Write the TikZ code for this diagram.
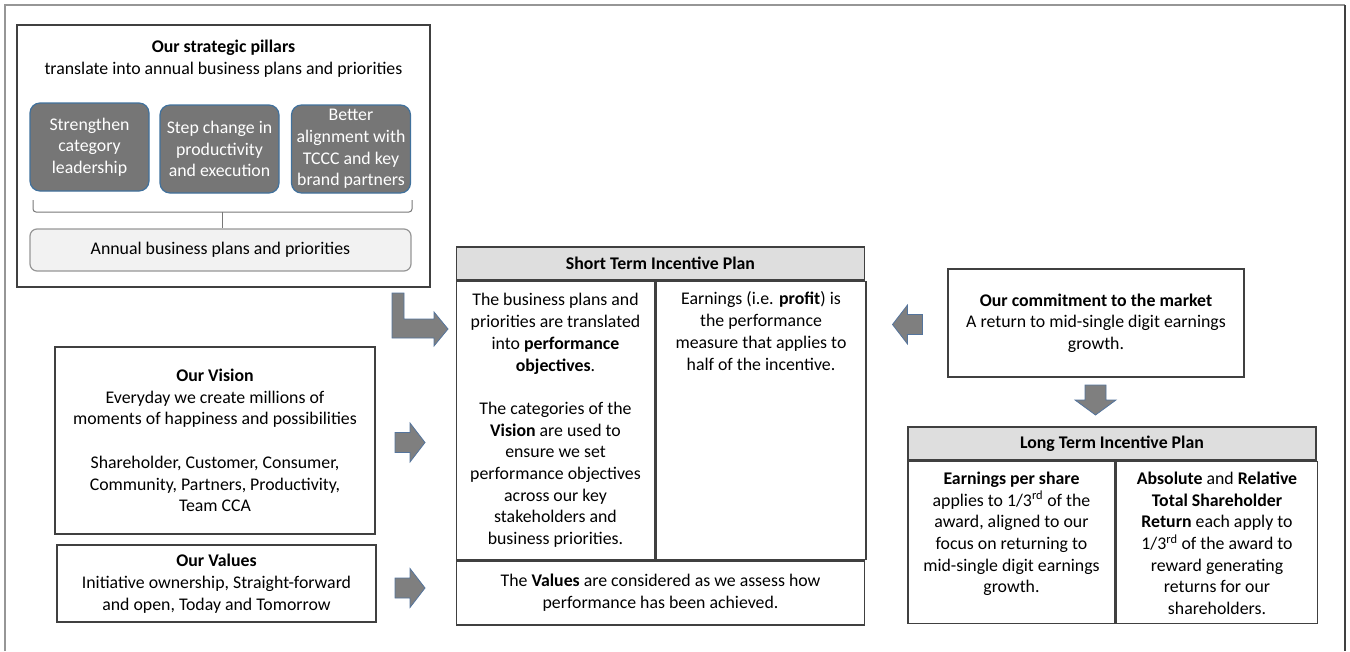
\documentclass[tikz,border=0pt]{standalone}
\usepackage{fontspec}
\setmainfont{Carlito}
\usetikzlibrary{positioning}

\definecolor{boxline}{RGB}{64,64,64}
\definecolor{pillarfill}{RGB}{118,118,118}
\definecolor{pillarline}{RGB}{65,113,156}
\definecolor{headfill}{RGB}{222,222,222}
\definecolor{softfill}{RGB}{242,242,242}
\definecolor{arrowfill}{RGB}{127,127,127}
\definecolor{arrowline}{RGB}{84,116,156}
\definecolor{framegray}{RGB}{150,150,150}

\tikzset{
	txt/.style={font=\fontsize{17.8}{21.7}\selectfont, align=center, inner sep=0pt},
	bold/.style={font=\fontsize{17.8}{21.7}\selectfont\bfseries},
	box/.style={txt, draw=boxline, line width=1.5pt},
	headbox/.style={box, bold, fill=headfill},
	pillar/.style={txt, rounded corners=10pt, draw=pillarline, line width=1.2pt, fill=pillarfill, text=white, minimum width=119, minimum height=88},
	blockarrow/.pic={
		\draw[arrowline, fill=arrowfill, line width=0.8pt] (-15,-10) -- (0,-10) -- (0,-19.5) -- (15,0) -- (0,19.5) -- (0,10) -- (-15,10) -- cycle;
	},
}

\begin{document}
\begin{tikzpicture}[x=1pt, y=-1pt]
		
		\useasboundingbox (0,0) rectangle (1350,651);
		\draw[framegray, line width=1.5pt] (5,651) -- (5,5) -- (1345,5);
		\draw[boxline, line width=2pt] (1345,5) -- (1345,651);
		
		\node[box, minimum width=413, minimum height=262] (pillars) at (223.5,156) {};
		\node[txt, bold] (pillarstitle) at (223.5,48) {Our strategic pillars};
		\node[txt] (pillarssub) at (223.5,70) {translate into annual business plans and priorities};
		\node[pillar] (p1) at (89.5,147) {Strengthen\\category\\leadership};
		\node[pillar] (p2) at (219.5,149) {Step change in\\productivity\\and execution};
		\node[pillar] (p3) at (351,149) {Better\\alignment with\\TCCC and key\\brand partners};
		\node[txt, draw=framegray, fill=softfill, rounded corners=7pt, line width=1.2pt, minimum width=381, minimum height=42] (annual) at (220.5,250) {Annual business plans and priorities};
		
		\draw[framegray!80!black, line width=1pt, rounded corners=3pt] (33,200) -- (33,212) -- (412,212) -- (412,200);
		\draw[framegray!80!black, line width=1pt] (222,212) -- (annual.north -| 222,0);
		
		\draw[arrowline, fill=arrowfill, line width=0.8pt] (392,293) -- (404,293) -- (404,319) -- (434,319) -- (434,312) -- (448,329) -- (434,346) -- (434,338) -- (392,338) -- cycle;
		
		\node[headbox, minimum width=408, minimum height=33] (stiphead) at (660.5,263.5) {Short Term Incentive Plan};
		\node[box, minimum width=198, minimum height=278, anchor=north west] (stipleft) at (stiphead.south west) {The business plans and\\priorities are translated\\into \textbf{performance}\\\textbf{objectives}.\\[21.7pt]The categories of the\\\textbf{Vision} are used to\\ensure we set\\performance objectives\\across our key\\stakeholders and\\business priorities.};
		\node[box, minimum width=210, minimum height=278, right=0pt of stipleft] (stipright) {};
		\node[txt, anchor=north, below=11pt of stipright.north] (stiprighttext) {Earnings (i.e. \textbf{profit}) is\\the performance\\measure that applies to\\half of the incentive.};
		\node[box, minimum width=408, minimum height=64, anchor=north west] (stipvalues) at (stipleft.south west) {The \textbf{Values} are considered as we assess how\\performance has been achieved.};
		
		\node[box, minimum width=320, minimum height=187] (vision) at (215,440.5) {\textbf{Our Vision}\\Everyday we create millions of\\moments of happiness and possibilities\\[21.7pt]Shareholder, Customer, Consumer,\\Community, Partners, Productivity,\\Team CCA};
		\node[box, minimum width=319, minimum height=77] (values) at (216.5,583.5) {\textbf{Our Values}\\Initiative ownership, Straight-forward\\and open, Today and Tomorrow};
		\pic (visionarrow) at (410,442.5) {blockarrow};
		\pic (valuesarrow) at (410,588) {blockarrow};
		
		\node[box, minimum width=296, minimum height=108] (market) at (1096,323) {\textbf{Our commitment to the market}\\A return to mid-single digit earnings\\growth.};
		\pic[rotate=180] (marketarrow) at (907.5,324.5) {blockarrow};
		\pic[rotate=-90, xscale=1, yscale=1.05] (ltiparrow) at (1095.5,400) {blockarrow};
		
		\node[headbox, minimum width=408, minimum height=33] (ltiphead) at (1112,443.5) {Long Term Incentive Plan};
		\node[box, minimum width=207, minimum height=162, anchor=north west] (ltipleft) at (ltiphead.south west) {};
		\node[box, minimum width=201, minimum height=162, right=0pt of ltipleft] (ltipright) {};
		\node[txt, anchor=north, below=11pt of ltipleft.north] (ltiplefttext) {\textbf{Earnings per share}\\applies to 1/3\textsuperscript{rd} of the\\award, aligned to our\\focus on returning to\\mid-single digit earnings\\growth.};
		\node[txt, anchor=north, below=11pt of ltipright.north] (ltiprighttext) {\textbf{Absolute} and \textbf{Relative}\\\textbf{Total Shareholder}\\\textbf{Return} each apply to\\1/3\textsuperscript{rd} of the award to\\reward generating\\returns for our\\shareholders.};
		
		\end{tikzpicture}
\end{document}
